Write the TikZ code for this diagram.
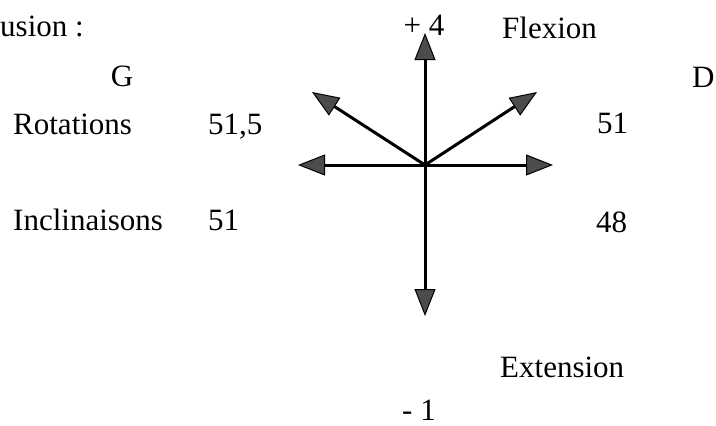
\documentclass[tikz,border=0pt]{standalone}
\usepackage{fontspec}
\setmainfont{Liberation Serif}
\usetikzlibrary{arrows.meta}
\begin{document}
\begin{tikzpicture}[x=1pt,y=-1pt,
  lbl/.style={inner sep=0pt,font=\fontsize{31}{33}\selectfont},
  vec/.style={line width=3pt,-{Triangle[length=27pt,width=21pt,fill=black!70,line width=1pt]}}]
\useasboundingbox (0,0) rectangle (716,426);
\coordinate (o) at (425,165);
\coordinate (n) at (425,33);
\coordinate (s) at (425,316);
\coordinate (w) at (298,165);
\coordinate (e) at (553,165);
\coordinate (nw) at (312,92);
\coordinate (ne) at (537,92);
\draw[vec] (o) -- (n);
\draw[vec] (o) -- (s);
\draw[vec] (o) -- (w);
\draw[vec] (o) -- (e);
\draw[vec] (o) -- (nw);
\draw[vec] (o) -- (ne);
\node[lbl,anchor=base west] (concl) at (0,36) {usion :};
\node[lbl,anchor=base] (plus) at (424,35) {+ 4};
\node[lbl,anchor=base west] (flex) at (502,38) {Flexion};
\node[lbl,anchor=base] (g) at (122,86) {G};
\node[lbl,anchor=base west] (d) at (692,87) {D};
\node[lbl,anchor=base west] (rot) at (13,134) {Rotations};
\node[lbl,anchor=base west] (rotg) at (208,134) {51,5};
\node[lbl,anchor=base west] (rotd) at (597,133) {51};
\node[lbl,anchor=base west] (inc) at (13,230) {Inclinaisons};
\node[lbl,anchor=base west] (incg) at (208,230) {51};
\node[lbl,anchor=base west] (incd) at (596,232) {48};
\node[lbl,anchor=base west] (ext) at (500,377) {Extension};
\node[lbl,anchor=base west] (minus) at (402,420) {- 1};
\end{tikzpicture}
\end{document}
